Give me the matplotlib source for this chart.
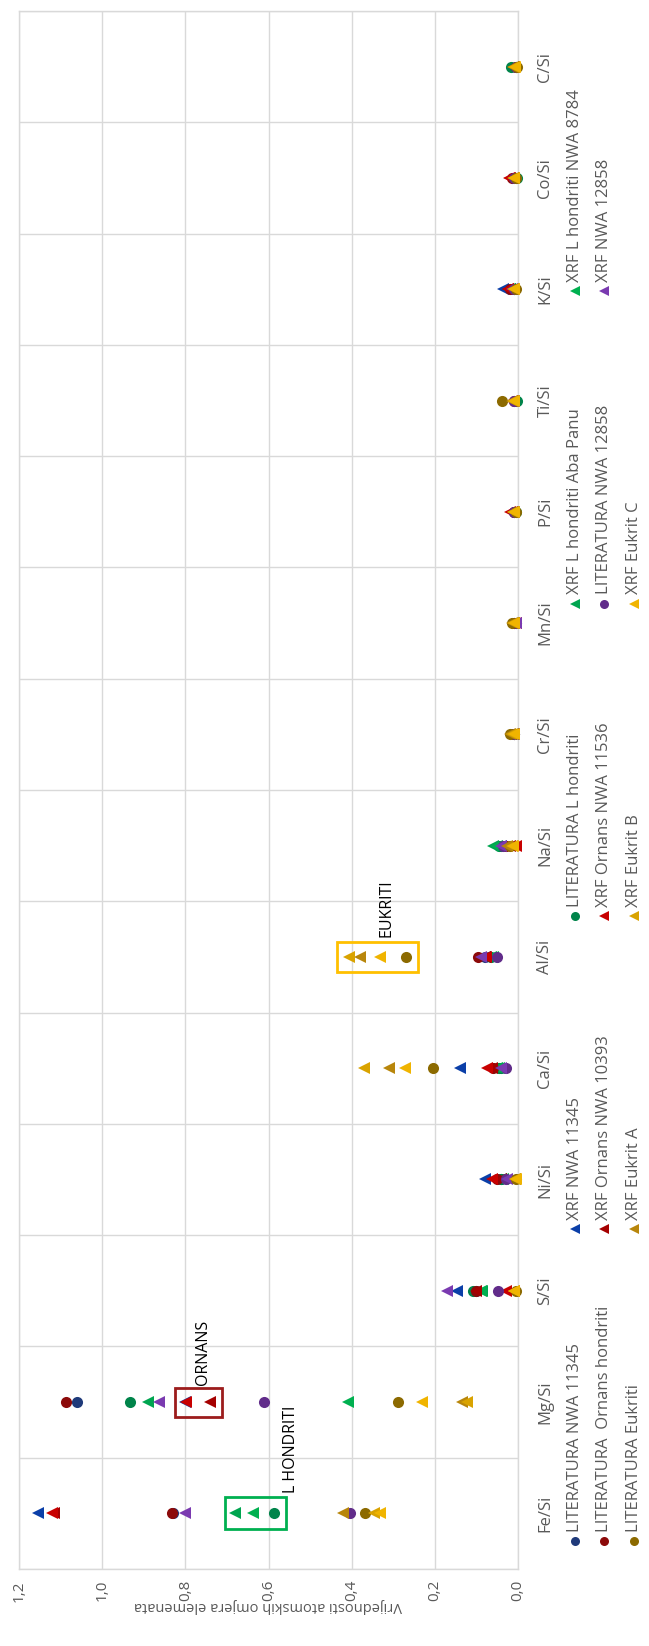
import numpy as np
import matplotlib
matplotlib.use('Agg')
import matplotlib.pyplot as plt
from matplotlib.patches import Rectangle

plt.rcParams['font.family'] = ['Open Sans', 'DejaVu Sans']

# element ratios on the category axis
categories = ['Fe/Si', 'Mg/Si', 'S/Si', 'Ni/Si', 'Ca/Si', 'Al/Si', 'Na/Si',
              'Cr/Si', 'Mn/Si', 'P/Si', 'Ti/Si', 'K/Si', 'Co/Si', 'C/Si']

# series names, in legend order
series_names = ['LITERATURA NWA 11345', 'XRF NWA 11345', 'LITERATURA L hondriti',
                'XRF L hondriti Aba Panu', 'XRF L hondriti NWA 8784',
                'LITERATURA  Ornans hondriti', 'XRF Ornans NWA 10393', 'XRF Ornans NWA 11536',
                'LITERATURA NWA 12858', 'XRF NWA 12858',
                'LITERATURA Eukriti', 'XRF Eukrit A', 'XRF Eukrit B', 'XRF Eukrit C']

lit_nwa11345 = [0.830, 1.061, 0.100, 0.040, 0.040, 0.080, 0.040, 0.010, 0.010, 0.010, 0.005, 0.010, 0.005, 0.005]
xrf_nwa11345 = [1.155, 0.800, 0.146, 0.079, 0.139, 0.080, 0.040, 0.010, 0.010, 0.010, 0.010, 0.035, 0.010, 0.010]
lit_lhond = [0.587, 0.932, 0.108, 0.040, 0.045, 0.065, 0.045, 0.010, 0.005, 0.005, 0.003, 0.010, 0.003, 0.018]
xrf_abapanu = [0.680, 0.890, 0.086, 0.040, 0.050, 0.065, 0.059, 0.010, 0.010, 0.010, 0.010, 0.020, 0.010, 0.010]
xrf_nwa8784 = [0.637, 0.408, 0.088, 0.035, 0.045, 0.060, 0.050, 0.010, 0.010, 0.010, 0.010, 0.020, 0.010, 0.010]
lit_ornans = [0.833, 1.086, 0.100, 0.050, 0.060, 0.095, 0.030, 0.010, 0.010, 0.010, 0.010, 0.020, 0.015, 0.005]
xrf_nwa10393 = [1.115, 0.741, 0.102, 0.042, 0.062, 0.080, 0.020, 0.010, 0.010, 0.015, 0.010, 0.025, 0.020, 0.010]
xrf_nwa11536 = [1.120, 0.798, 0.030, 0.062, 0.074, 0.076, 0.005, 0.010, 0.005, 0.020, 0.015, 0.025, 0.022, 0.010]
lit_nwa12858 = [0.405, 0.612, 0.047, 0.030, 0.029, 0.050, 0.035, 0.010, 0.005, 0.010, 0.010, 0.010, 0.010, 0.005]
xrf_nwa12858 = [0.800, 0.864, 0.171, 0.026, 0.042, 0.090, 0.042, 0.010, 0.005, 0.010, 0.010, 0.015, 0.010, 0.010]
lit_eukriti = [0.368, 0.288, 0.005, 0.005, 0.205, 0.269, 0.020, 0.020, 0.015, 0.005, 0.038, 0.005, 0.005, 0.003]
xrf_eukrit_a = [0.422, 0.134, 0.010, 0.008, 0.311, 0.379, 0.026, 0.020, 0.015, 0.012, 0.015, 0.012, 0.012, 0.012]
xrf_eukrit_b = [0.346, 0.122, 0.010, 0.008, 0.371, 0.407, 0.015, 0.015, 0.012, 0.012, 0.012, 0.010, 0.010, 0.010]
xrf_eukrit_c = [0.331, 0.230, 0.010, 0.006, 0.271, 0.332, 0.011, 0.010, 0.010, 0.010, 0.010, 0.010, 0.010, 0.008]

series_values = [lit_nwa11345, xrf_nwa11345, lit_lhond, xrf_abapanu, xrf_nwa8784,
                 lit_ornans, xrf_nwa10393, xrf_nwa11536, lit_nwa12858, xrf_nwa12858,
                 lit_eukriti, xrf_eukrit_a, xrf_eukrit_b, xrf_eukrit_c]

colors = ['#1F3A7A', '#0B3FA8', '#00844A', '#00A550', '#00B050',
          '#8C0A0A', '#A50000', '#C80000', '#612C8A', '#7A3AB0',
          '#8C6A00', '#B8860B', '#D9A300', '#F0B400']
# circles for literature values, triangles for XRF measurements
markers = ['o' if n.startswith('LITERATURA') else '<' for n in series_names]

value_ticks = [0.0, 0.2, 0.4, 0.6, 0.8, 1.0, 1.2]
value_labels = ['0,0', '0,2', '0,4', '0,6', '0,8', '1,0', '1,2']

W, H = 649, 1646
fig = plt.figure(figsize=(W / 100, H / 100), dpi=100)
ax = fig.add_axes([19 / W, 1 - 1569 / H, 499 / W, 1558 / H])

ypos = np.arange(len(categories))
for vals, col, mk in zip(series_values, colors, markers):
    ms = 8 if mk == 'o' else 8.5
    ax.plot(vals, ypos, linestyle='none', marker=mk, color=col, markersize=ms,
            markeredgewidth=0, zorder=3, clip_on=False)

ax.set_xlim(1.2, 0.0)
ax.set_ylim(-0.5, len(categories) - 0.5)

grey = '#D9D9D9'
txt = '#595959'
ax.set_xticks(value_ticks)
ax.set_xticklabels(value_labels, rotation=90, color=txt, fontsize=11)
ax.set_yticks(ypos)
ax.set_yticklabels(categories, rotation=90, va='center', color=txt, fontsize=12)
ax.set_yticks(np.arange(-0.5, len(categories), 1.0), minor=True)
ax.yaxis.tick_right()
ax.tick_params(axis='both', which='both', length=0)
ax.tick_params(axis='x', pad=8)
ax.tick_params(axis='y', pad=14)
ax.grid(True, axis='x', which='major', color=grey, linewidth=1)
ax.grid(True, axis='y', which='minor', color=grey, linewidth=1)
for s in ax.spines.values():
    s.set_color(grey)
    s.set_linewidth(1)

fig.text(268 / W, 1 - 1606 / H, 'Vrijednosti atomskih omjera elemenata',
         rotation=180, ha='center', va='center', color=txt, fontsize=10.5)

# group boxes with their labels above them
def group_box(x0, x1, yc, half, color, label, lx, dy):
    ax.add_patch(Rectangle((x1, yc - half), x0 - x1, 2 * half, fill=False,
                           edgecolor=color, linewidth=2, zorder=4))
    ax.text(lx, yc + dy, label, rotation=90, ha='center', va='bottom',
            fontsize=11.5, color='black', zorder=5)

group_box(0.704, 0.557, 0, 0.145, '#00B050', 'L HONDRITI', 0.547, 0.18)
group_box(0.826, 0.713, 1, 0.13, '#9C1C1C', 'ORNANS', 0.758, 0.153)
group_box(0.436, 0.241, 5, 0.137, '#FFC000', 'EUKRITI', 0.316, 0.18)

# legend: five entries per row, rows stacked side by side
leg_x = [575, 604, 634]
leg_y = [1541, 1228.5, 916, 603.5, 291]
for i, (name, col, mk) in enumerate(zip(series_names, colors, markers)):
    r, c = divmod(i, 5)
    fx = leg_x[r] / W
    fy = 1 - leg_y[c] / H
    fig.lines.append(plt.Line2D([fx], [fy], transform=fig.transFigure, marker=mk,
                                linestyle='none', color=col, markersize=6.5,
                                markeredgewidth=0))
    fig.text(fx, 1 - (leg_y[c] - 9) / H, name, rotation=90, ha='center', va='bottom',
             color=txt, fontsize=12)

fig.savefig('out.png', dpi=100, facecolor='white')
